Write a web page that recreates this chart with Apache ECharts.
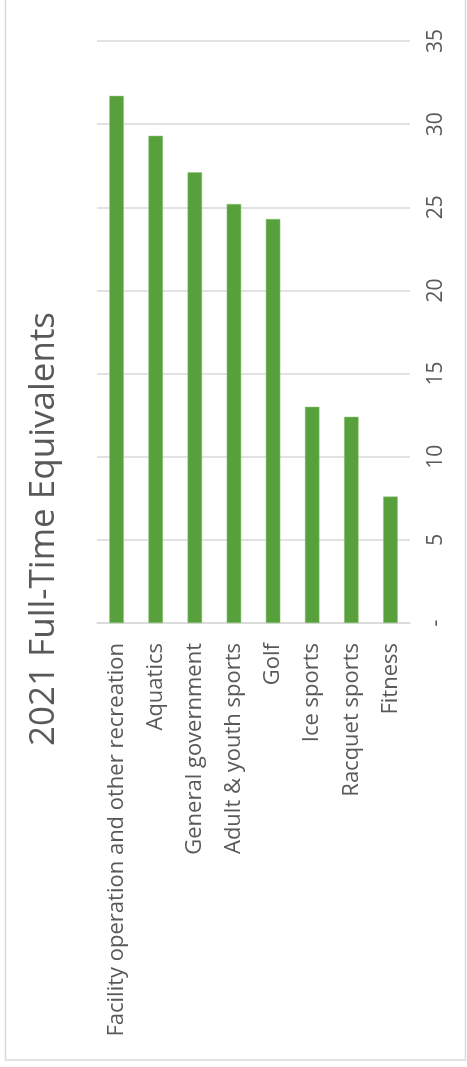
<!DOCTYPE html>
<html>
<head>
<meta charset="utf-8">
<script src="https://cdn.jsdelivr.net/npm/echarts@6/dist/echarts.min.js"></script>
<style>
html,body{margin:0;padding:0;background:#fff;}
#c{width:467px;height:1067px;}
</style>
</head>
<body>
<div id="c"></div>
<script>
const categories = ['Facility operation and other recreation','Aquatics','General government','Adult & youth sports','Golf','Ice sports','Racquet sports','Fitness'];
const values = [31.7, 29.3, 27.1, 25.2, 24.3, 13.0, 12.4, 7.6];
const titleText = '2021 Full-Time Equivalents';

const chart = echarts.init(document.getElementById('c'));
chart.setOption({
  animation: false,
  backgroundColor: '#fff',
  graphic: [
    {type:'rect', shape:{x:5.5, y:-5, width:460, height:1065}, style:{fill:'none', stroke:'#d9d9d9', lineWidth:1.5}},
    {type:'text', x:44, y:529, rotation:Math.PI/2, style:{text:titleText, fill:'#595959', font:'35px "Open Sans"', textAlign:'center', textVerticalAlign:'middle'}}
  ],
  grid: {left:97, right:57, top:41, bottom:444},
  xAxis: {
    type:'category', data:categories,
    axisLine:{lineStyle:{color:'#d9d9d9', width:1.5}},
    axisTick:{show:false},
    axisLabel:{rotate:90, interval:0, margin:20, color:'#595959', fontSize:22, fontFamily:'Open Sans'}
  },
  yAxis: {
    type:'value', position:'right', min:0, max:35, interval:5,
    axisLine:{show:false}, axisTick:{show:false},
    splitLine:{lineStyle:{color:'#d9d9d9', width:1.5}},
    axisLabel:{rotate:90, margin:16, color:'#595959', fontSize:21, fontFamily:'Open Sans', formatter:v=>v===0?'-':String(v)}
  },
  series: [{type:'bar', data:values, barWidth:'37%', itemStyle:{color:'#57a03c', borderColor:'#8cc474', borderWidth:0.5}}]
});
</script>
</body>
</html>
